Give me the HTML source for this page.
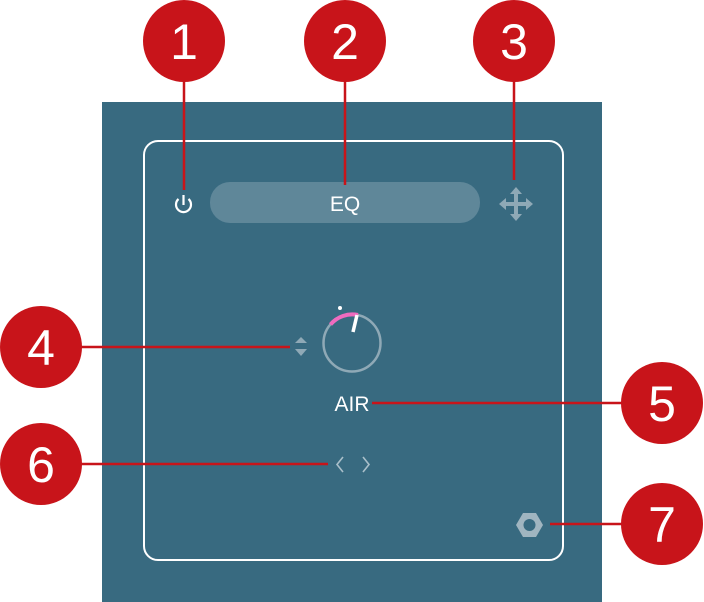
<!DOCTYPE html>
<html><head><style>
html,body{margin:0;padding:0;background:#fff;width:704px;height:602px;overflow:hidden}
text{font-family:"Liberation Sans",sans-serif}
</style></head><body>
<svg width="704" height="602" viewBox="0 0 704 602" xmlns="http://www.w3.org/2000/svg">
<rect x="102" y="102" width="500" height="500" fill="#386a80"/>
<rect x="144" y="141" width="419" height="419" rx="14" fill="none" stroke="#fff" stroke-width="2"/>
<rect x="210" y="182" width="270" height="41" rx="20" fill="#5f8799"/>
<text x="345" y="211" fill="#fff" font-size="21" text-anchor="middle">EQ</text>
<path d="M178.5 199 A7.5 7.5 0 1 0 188.5 199" fill="none" stroke="#fff" stroke-width="2.2"/>
<line x1="183.5" y1="195" x2="183.5" y2="205" stroke="#fff" stroke-width="2.2"/>
<g fill="#8fa9b6" stroke="#8fa9b6">
<line x1="516" y1="192" x2="516" y2="216" stroke-width="4"/>
<line x1="504" y1="204" x2="528" y2="204" stroke-width="4"/>
<polygon points="516,187 510,194 522,194" stroke="none"/>
<polygon points="516,221 510,214 522,214" stroke="none"/>
<polygon points="499,204 506,198 506,210" stroke="none"/>
<polygon points="533,204 526,198 526,210" stroke="none"/>
</g>
<circle cx="352" cy="343" r="28.5" fill="none" stroke="#8fa9b6" stroke-width="2.5"/>
<path d="M330.5 324.5 A28.5 28.5 0 0 1 358 315" fill="none" stroke="#f06bbf" stroke-width="4"/>
<line x1="357" y1="315" x2="353" y2="332" stroke="#fff" stroke-width="3.5"/>
<circle cx="340" cy="308" r="2" fill="#fff"/>
<polygon points="301,337 295,343 307,343" fill="#8fa9b6"/>
<polygon points="301,356 295,349 307,349" fill="#8fa9b6"/>
<text x="352" y="411" fill="#fff" font-size="21" text-anchor="middle">AIR</text>
<path d="M343 457 L337 464.5 L343 472 M363 457 L369 464.5 L363 472" fill="none" stroke="#a9bfca" stroke-width="1.6"/>
<polygon points="516,525 523,513 536,513 543,525 536,537 523,537" fill="#a0b5c0"/>
<circle cx="529.5" cy="525" r="6" fill="#386a80"/>
<g stroke="#c8141a" stroke-width="2.5">
<line x1="184" y1="60" x2="184" y2="190"/>
<line x1="345" y1="60" x2="345" y2="185"/>
<line x1="514" y1="60" x2="514" y2="180"/>
<line x1="40" y1="347" x2="290" y2="347"/>
<line x1="372" y1="403" x2="662" y2="403"/>
<line x1="40" y1="464" x2="328" y2="464"/>
<line x1="550" y1="524" x2="662" y2="524"/>
</g>
<g fill="#c8141a">
<circle cx="184" cy="41" r="41"/><circle cx="345" cy="41" r="41"/><circle cx="514" cy="41" r="41"/>
<circle cx="41" cy="347" r="41"/><circle cx="662" cy="403" r="41"/><circle cx="41" cy="464" r="41"/><circle cx="662" cy="524" r="41"/>
</g>
<g fill="#fff" font-size="50" text-anchor="middle">
<text x="184" y="59">1</text><text x="345" y="59">2</text><text x="514" y="59">3</text>
<text x="41" y="365">4</text><text x="662" y="421">5</text><text x="41" y="482">6</text><text x="662" y="542">7</text>
</g>
</svg>
</body></html>
